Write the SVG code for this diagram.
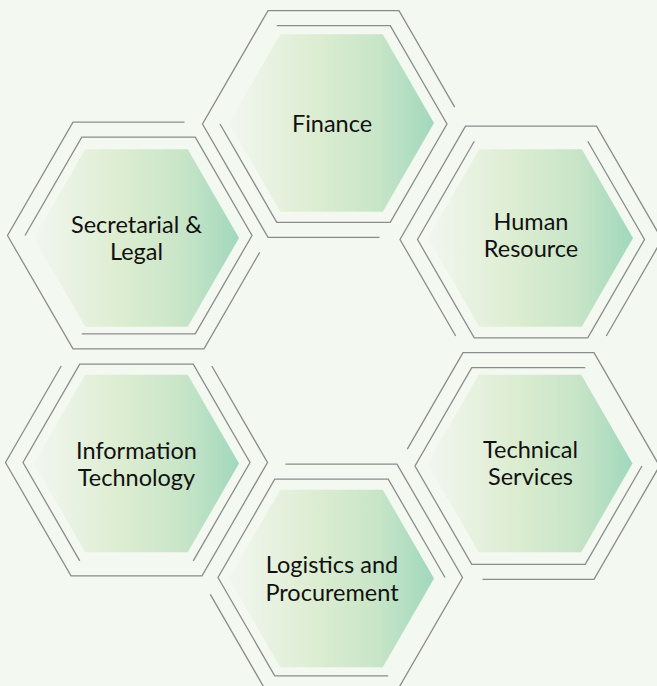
<svg xmlns="http://www.w3.org/2000/svg" width="657" height="686" viewBox="0 0 657 686">
<style>
.ring{fill:none;stroke:#8c8c8c;stroke-width:1.3;stroke-linejoin:miter}
.hex{fill:url(#g)}
.lbl{font-family:Lato,"Liberation Sans",sans-serif;font-size:23.5px;fill:#111;text-anchor:middle}
</style>
<defs>
<linearGradient id="g" x1="0" y1="0" x2="1" y2="0">
<stop offset="0" stop-color="#f2f6f0"/>
<stop offset="0.42" stop-color="#ddedd1"/>
<stop offset="0.72" stop-color="#c9e5c8"/>
<stop offset="1" stop-color="#a1d8bc"/>
</linearGradient>
<polygon id="fh" points="102.5,0 51.25,88.8 -51.25,88.8 -102.5,0 -51.25,-88.8 51.25,-88.8"/>
</defs>
<rect width="657" height="686" fill="#f3f8f1"/>
<g id="connectors"/>
<g id="finance">
<use href="#fh" class="hex" x="331.5" y="123"/>
<path class="ring" d="M454.7,107.1 L399,10.6 L268,10.6 L202.5,124 L268,237.4 L379.5,237.4"/>
<path class="ring" d="M276.75,25.7 L390.25,25.7 L447,124 L390.25,222.3 L276.75,222.3 L220,124"/>
<text class="lbl" x="332" y="131.5">Finance</text>
</g>
<g id="secretarial">
<use href="#fh" class="hex" x="136.5" y="238"/>
<path class="ring" d="M259.7,252.4 L204,348.9 L73,348.9 L7.5,235.5 L73,122.1 L184.5,122.1"/>
<path class="ring" d="M25,235.5 L81.75,137.2 L195.25,137.2 L252,235.5 L195.25,333.8 L81.75,333.8"/>
<text class="lbl" x="136.5" y="232.5">Secretarial &amp;</text>
<text class="lbl" x="136.5" y="259.5">Legal</text>
</g>
<g id="human-resource">
<use href="#fh" class="hex" x="530.5" y="238"/>
<path class="ring" d="M606.3,336 L662,239.5 L596.5,126.1 L465.5,126.1 L400,239.5 L455.7,336"/>
<path class="ring" d="M587.75,141.2 L644.5,239.5 L587.75,337.8 L474.25,337.8 L417.5,239.5 L474.25,141.2"/>
<text class="lbl" x="531" y="230">Human</text>
<text class="lbl" x="531" y="257">Resource</text>
</g>
<g id="information-technology">
<use href="#fh" class="hex" x="136.5" y="463.5"/>
<path class="ring" d="M61.2,366 L5.5,462.5 L71,575.9 L202,575.9 L267.5,462.5 L211.8,366"/>
<path class="ring" d="M79.75,560.8 L23,462.5 L79.75,364.2 L193.25,364.2 L250,462.5 L193.25,560.8"/>
<text class="lbl" x="136.5" y="459">Information</text>
<text class="lbl" x="136.5" y="485.5">Technology</text>
</g>
<g id="technical-services">
<use href="#fh" class="hex" x="530" y="463.5"/>
<path class="ring" d="M407.3,449.1 L463,352.6 L594,352.6 L659.5,466 L594,579.4 L482.5,579.4"/>
<path class="ring" d="M642,466 L585.25,564.3 L471.75,564.3 L415,466 L471.75,367.7 L585.25,367.7"/>
<text class="lbl" x="530.5" y="458">Technical</text>
<text class="lbl" x="530.5" y="485">Services</text>
</g>
<g id="logistics">
<use href="#fh" class="hex" x="331.5" y="578.5"/>
<path class="ring" d="M285.5,464.1 L397,464.1 L462.5,577.5 L397,690.9 L266,690.9 L210.3,594.4"/>
<path class="ring" d="M445,577.5 L388.25,479.2 L274.75,479.2 L218,577.5 L274.75,675.8 L388.25,675.8"/>
<text class="lbl" x="332" y="573">Logistics and</text>
<text class="lbl" x="332" y="600.5">Procurement</text>
</g>
</svg>
